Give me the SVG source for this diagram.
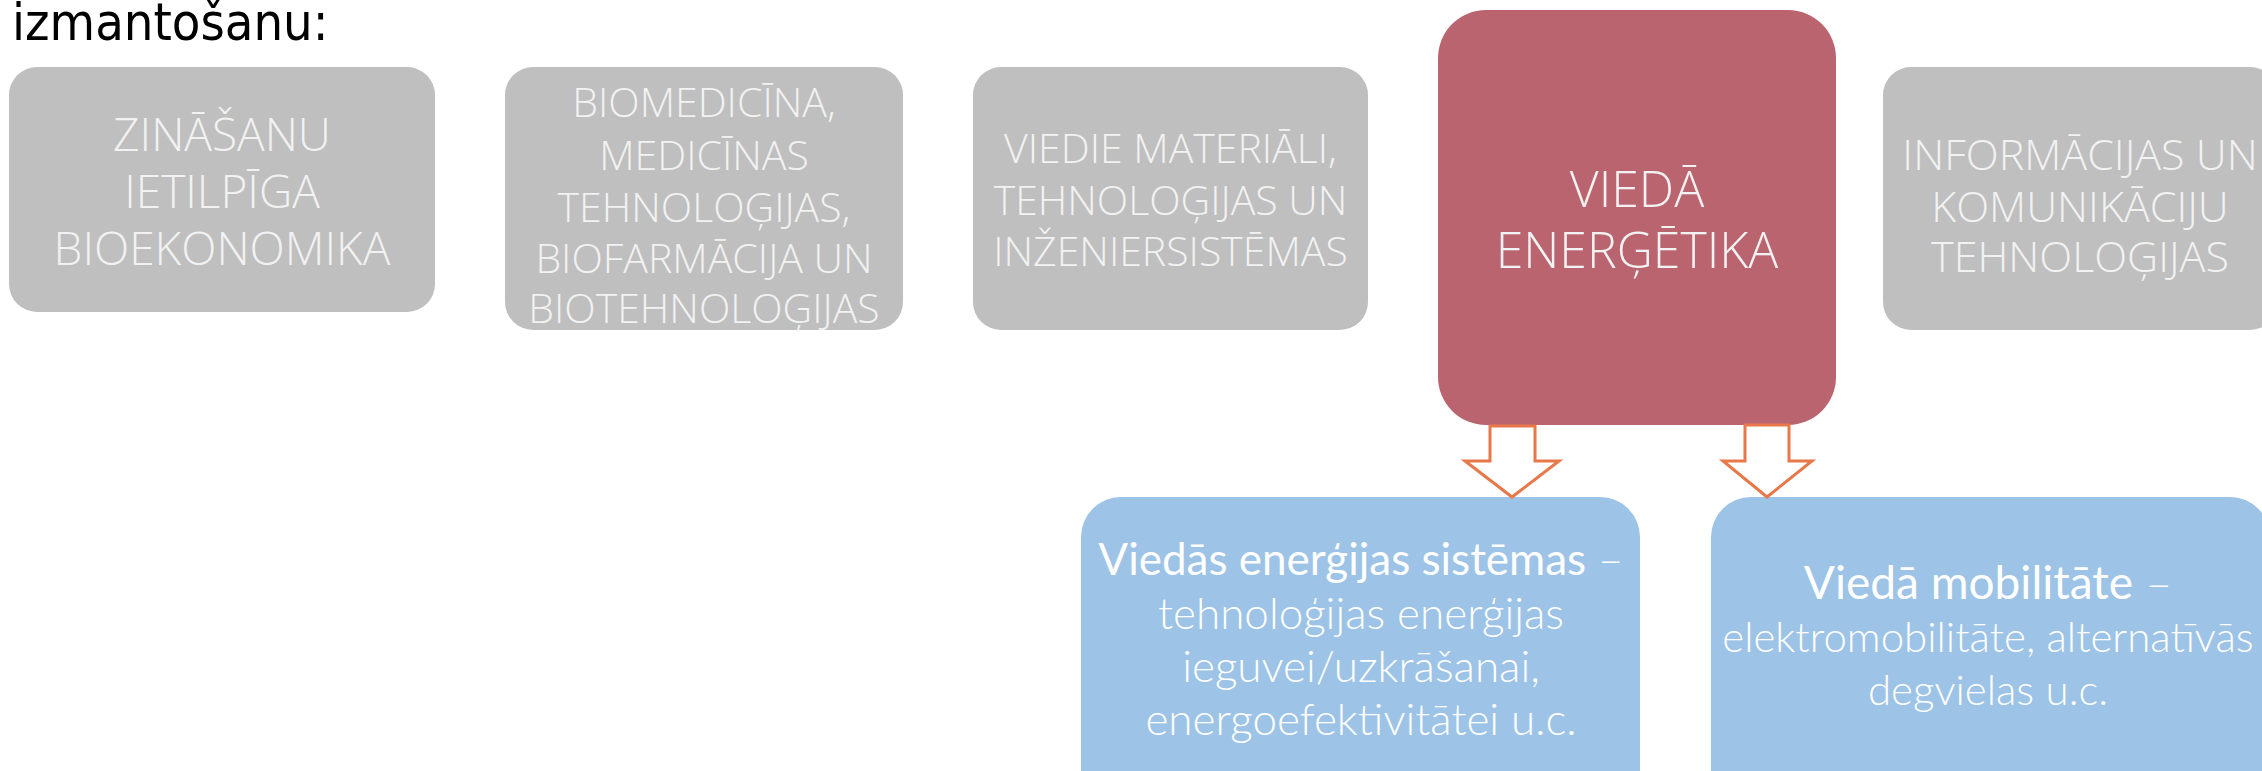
<svg xmlns="http://www.w3.org/2000/svg" width="2262" height="771" viewBox="0 0 2262 771">
<style>
.gray{fill:#BFBFBF}
.red{fill:#BA6470}
.blue{fill:#9DC3E6}
.gt{font-family:"Open Sans","Noto Sans",sans-serif;font-weight:300;fill:#F2F2F2;text-anchor:middle}
.bt{font-family:Lato,"Noto Sans",sans-serif;fill:#FFFFFF;text-anchor:middle}
.arrow{fill:#FFFFFF;stroke:#E8784A;stroke-width:3;stroke-linejoin:miter}
</style>
<rect width="2262" height="771" fill="#FFFFFF"/>
<text x="12" y="40" font-family="DejaVu Sans Condensed,DejaVu Sans,sans-serif" font-stretch="condensed" font-size="52" fill="#000000">izmantošanu:</text>

<g id="node-zinasanu">
<rect class="gray" x="9" y="67" width="426" height="245" rx="28"/>
<text class="gt" font-size="46"><tspan x="222" y="151">ZINĀŠANU</tspan><tspan x="222" y="208">IETILPĪGA</tspan><tspan x="222" y="265">BIOEKONOMIKA</tspan></text>
</g>

<g id="node-biomedicina">
<rect class="gray" x="505" y="67" width="398" height="263" rx="28"/>
<text class="gt" font-size="41"><tspan x="704" y="117">BIOMEDICĪNA,</tspan><tspan x="704" y="170">MEDICĪNAS</tspan><tspan x="704" y="222">TEHNOLOĢIJAS,</tspan><tspan x="704" y="273">BIOFARMĀCIJA UN</tspan><tspan x="704" y="323">BIOTEHNOLOĢIJAS</tspan></text>
</g>

<g id="node-materiali">
<rect class="gray" x="973" y="67" width="395" height="263" rx="28"/>
<text class="gt" font-size="41"><tspan x="1170.5" y="163">VIEDIE MATERIĀLI,</tspan><tspan x="1170.5" y="215">TEHNOLOĢIJAS UN</tspan><tspan x="1170.5" y="266">INŽENIERSISTĒMAS</tspan></text>
</g>

<g id="node-energetika">
<rect class="red" x="1438" y="10" width="398" height="415" rx="48"/>
<text class="gt" font-size="50"><tspan x="1637" y="207">VIEDĀ</tspan><tspan x="1637" y="268">ENERĢĒTIKA</tspan></text>
</g>

<g id="node-ikt">
<rect class="gray" x="1883" y="67" width="395" height="263" rx="28"/>
<text class="gt" font-size="43"><tspan x="2080" y="170">INFORMĀCIJAS UN</tspan><tspan x="2080" y="222">KOMUNIKĀCIJU</tspan><tspan x="2080" y="272">TEHNOLOĢIJAS</tspan></text>
</g>

<g id="node-energijas-sistemas">
<rect class="blue" x="1081" y="497" width="559" height="320" rx="40"/>
<text class="bt"><tspan x="1361" y="575" font-size="44" font-weight="400">Viedās enerģijas sistēmas<tspan font-weight="300"> –</tspan></tspan><tspan x="1361" y="629" font-size="44" font-weight="300">tehnoloģijas enerģijas</tspan><tspan x="1361" y="682" font-size="44" font-weight="300">ieguvei/uzkrāšanai,</tspan><tspan x="1361" y="735" font-size="44" font-weight="300">energoefektivitātei u.c.</tspan></text>
</g>

<g id="node-mobilitate">
<rect class="blue" x="1711" y="497" width="559" height="320" rx="40"/>
<text class="bt"><tspan x="1988" y="599" font-size="46" font-weight="400">Viedā mobilitāte<tspan font-weight="300"> –</tspan></tspan><tspan x="1988" y="652" font-size="42" font-weight="300">elektromobilitāte, alternatīvās</tspan><tspan x="1988" y="705" font-size="42" font-weight="300">degvielas u.c.</tspan></text>
</g>

<g id="connectors">
<path class="arrow" d="M1490,426 L1535,426 L1535,461 L1559,461 L1512,497 L1465,461 L1490,461 Z"/>
<path class="arrow" d="M1745,425 L1789,425 L1789,461 L1812,461 L1767,497 L1723,461 L1745,461 Z"/>
</g>
</svg>
